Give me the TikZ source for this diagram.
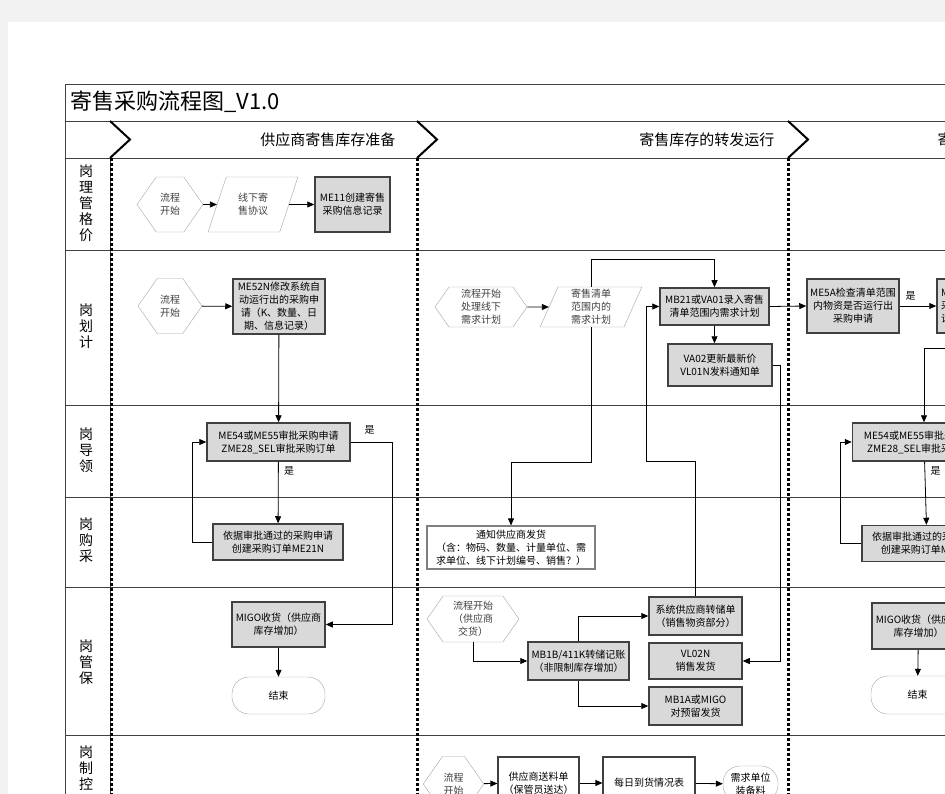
\documentclass[tikz,border=0pt]{standalone}
\usepackage{fontspec}
\setmainfont{Noto Sans CJK SC}
\usepackage{tikz}
\usetikzlibrary{arrows.meta,positioning,calc,shapes.geometric,shapes.symbols}

\definecolor{boxgray}{RGB}{217,217,217}
\definecolor{linegray}{RGB}{64,64,64}
\definecolor{hexgray}{RGB}{165,165,165}
\definecolor{pagegray}{RGB}{242,242,242}

\begin{document}
\begin{tikzpicture}[x=1pt,y=-1pt,
  font=\fontsize{10}{13}\selectfont,
  sapbox/.style={draw=linegray,line width=1.5pt,fill=boxgray,align=center,inner sep=1pt},
  plainbox/.style={draw=linegray,line width=1.2pt,fill=white,align=center,inner sep=1pt},
  hexbox/.style={signal,signal to=west and east,signal pointer angle=110,draw=hexgray,fill=white,
    text=black!75,align=center,inner sep=1pt},
  databox/.style={trapezium,trapezium left angle=#1,trapezium right angle=180-#1,trapezium stretches=true,
    draw=hexgray,fill=white,text=black!75,align=center,inner sep=1pt},
  endbox/.style={draw=hexgray,fill=white,rounded corners=17pt,align=center},
  flow/.style={-{Triangle[length=7pt,width=6pt]},line width=0.8pt},
  lanelabel/.style={align=center,inner sep=0pt,font=\fontsize{14}{16}\selectfont},
  phaseline/.style={line width=3pt,dash pattern=on 3pt off 2pt},
]
\useasboundingbox (0,0) rectangle (945,794);
\clip (0,0) rectangle (945,794);
\fill[pagegray] (0,0) rectangle (945,794);
\fill[white] (8,22) rectangle (945,794);

% 表格
\draw[linegray,line width=0.9pt] (65,794) -- (65,84) -- (945,84);
\draw[linegray,line width=0.9pt] (65,121) -- (945,121);
\draw[linegray,line width=0.9pt] (65,158) -- (945,158);
\foreach \y in {250,405,497,587,735}
  \draw[linegray,line width=0.9pt] (65,\y) -- (945,\y);
\draw[linegray,line width=0.9pt] (110,158) -- (110,794);
\foreach \x in {111,417,788}
  \draw[phaseline] (\x,158) -- (\x,794);
\foreach \x in {110,417,788}
  \draw[line width=2pt] (\x,121) -- (\x+20,139.5) -- (\x,158);

\node[anchor=west,font=\fontsize{22}{24}\selectfont] (title) at (67,102) {寄售采购流程图\_V1.0};
\node[anchor=east,font=\fontsize{15}{17}\selectfont] (phaseA) at (399,139.5) {供应商寄售库存准备};
\node[anchor=east,font=\fontsize{15}{17}\selectfont] (phaseB) at (778,139.5) {寄售库存的转发运行};
\node[anchor=west,font=\fontsize{15}{17}\selectfont] (phaseC) at (934,139.5) {寄};

\node[lanelabel] (laneA) at (86,203) {岗\\理\\管\\格\\价};
\node[lanelabel] (laneB) at (86,326) {岗\\划\\计};
\node[lanelabel] (laneC) at (86,450) {岗\\导\\领};
\node[lanelabel] (laneD) at (86,540) {岗\\购\\采};
\node[lanelabel] (laneE) at (86,662) {岗\\管\\保};
\node[lanelabel] (laneF) at (86,768) {岗\\制\\控};

% 供应商寄售库存准备
\node[hexbox,minimum width=66,minimum height=55] (startA1) at (170,204.5) {流程\\开始};
\node[databox=66,minimum width=90,minimum height=55] (offline) at (253,204.5) {线下寄\\售协议};
\node[sapbox,minimum width=75,minimum height=55] (me11) at (352.5,204.5) {ME11创建寄售\\采购信息记录};
\node[hexbox,minimum width=64,minimum height=55] (startA2) at (170,306) {流程\\开始};
\node[sapbox,minimum width=92,minimum height=55] (me52n) at (279,306.5) {ME52N修改系统自\\动运行出的采购申\\请（K、数量、日\\期、信息记录）};
\node[sapbox,minimum width=143,minimum height=38] (approveA) at (278.5,442) {ME54或ME55审批采购申请\\ZME28\_SEL审批采购订单};
\node[sapbox,minimum width=130,minimum height=36] (orderA) at (278,542) {依据审批通过的采购申请\\创建采购订单ME21N};
\node[sapbox,minimum width=93,minimum height=45] (migoA) at (278.5,624.5) {MIGO收货（供应商\\库存增加）};
\node[endbox,minimum width=93,minimum height=37] (endA) at (278.5,695.5) {结束};

\draw[flow] (startA1) -- (offline);
\draw[flow] (offline) -- (me11);
\draw[flow] (startA2) -- (me52n);
\draw[flow] (me52n) -- (approveA);
\draw[flow] (approveA.east) -- ++(42,0) node[above=4pt,pos=0.45] (yesA1) {是} |- (migoA.east);
\draw[flow] (approveA) -- node[right=2pt,pos=0.15] (yesA2) {是} (orderA);
\draw[flow] (orderA.west) -- ++(-20,0) |- (approveA.west);
\draw[flow] (migoA) -- (endA);

% 寄售库存的转发运行
\node[hexbox,minimum width=92,minimum height=40] (startB1) at (481,307) {流程开始\\处理线下\\需求计划};
\node[databox=73,minimum width=102,minimum height=40] (plan) at (591,307) {寄售清单\\范围内的\\需求计划};
\node[sapbox,minimum width=109,minimum height=37] (mb21) at (714.5,306.5) {MB21或VA01录入寄售\\清单范围内需求计划};
\node[sapbox,minimum width=104,minimum height=42] (va02) at (720,365) {VA02更新最新价\\VL01N发料通知单};
\node[draw=gray,line width=1.2pt,fill=white,align=center,inner sep=1pt,minimum width=168,minimum height=43]
  (notice) at (511,547.5) {通知供应商发货\\（含：物码、数量、计量单位、需\\求单位、线下计划编号、销售？）};
\node[hexbox,minimum width=92,minimum height=46] (startB2) at (473,619) {流程开始\\（供应商\\交货）};
\node[sapbox,minimum width=101,minimum height=38] (mb1b) at (578.5,661) {MB1B/411K转储记账\\（非限制库存增加）};
\node[sapbox,minimum width=93,minimum height=38] (sto) at (695.5,616) {系统供应商转储单\\（销售物资部分）};
\node[sapbox,minimum width=93,minimum height=36] (vl02n) at (695.5,661) {VL02N\\销售发货};
\node[sapbox,minimum width=93,minimum height=38] (mb1a) at (695.5,706) {MB1A或MIGO\\对预留发货};
\node[hexbox,minimum width=53,minimum height=55] (startB3) at (453.5,784) {流程\\开始};
\node[plainbox,minimum width=81,minimum height=52] (delivery) at (538.5,783) {供应商送料单\\（保管员送达）};
\node[plainbox,minimum width=92,minimum height=52] (daily) at (649,783) {每日到货情况表};
\node[endbox,minimum width=55,minimum height=36] (demand) at (750.5,784) {需求单位\\装备料};

\draw[flow] (startB1) -- (plan);
\draw[flow] (plan.north) -- ++(0,-27) -| (mb21.north);
\draw[flow] (plan.south) -- ++(0,135) -| (notice.north);
\draw[flow] (mb21.south) -- (mb21.south |- va02.north);
\draw[flow] (va02.east) -- ++(8,0) |- (vl02n.east);
\draw[flow] (sto.north) -- ++(0,-135) -- ++(-49.5,0) |- (mb21.west);
\draw[flow] (startB2.south) |- (mb1b.west);
\draw[flow] (mb1b.north) |- (sto.west);
\draw[flow] (mb1b.south) |- (mb1a.west);
\draw[flow] (startB3) -- (delivery);
\draw[flow] (delivery) -- (daily);
\draw[flow] (daily) -- (demand);

% 第三阶段（右侧截断）
\node[sapbox,minimum width=92,minimum height=54] (me5a) at (853,306) {ME5A检查清单范围\\内物资是否运行出\\采购申请};
\node[sapbox,minimum width=93,minimum height=54,align=left,text width=85] (nextC) at (983.5,306) {M\\采\\计};
\node[sapbox,minimum width=143,minimum height=38] (approveC) at (924,442) {ME54或ME55审批采购申请\\ZME28\_SEL审批采购订单};
\node[sapbox,minimum width=130,minimum height=36] (orderC) at (927,543.5) {依据审批通过的采购申请\\创建采购订单ME21N};
\node[sapbox,minimum width=93,minimum height=46] (migoC) at (918.5,626) {MIGO收货（供应商\\库存增加）};
\node[endbox,minimum width=93,minimum height=38] (endC) at (917.5,695) {结束};

\draw[flow] (mb21.east) -- (me5a.west);
\draw[flow] (me5a.east) -- node[above=2pt,pos=0.3] (yesC1) {是} (nextC.west);
\draw[flow] (nextC.south) -- ++(0,15) -| (approveC.north);
\draw[flow] (approveC) -- node[right=2pt,pos=0.15] (yesC2) {是} (orderC);
\draw[flow] (orderC.west) -- ++(-21,0) |- (approveC.west);
\draw[flow] (migoC) -- (endC);
\end{tikzpicture}
\end{document}
